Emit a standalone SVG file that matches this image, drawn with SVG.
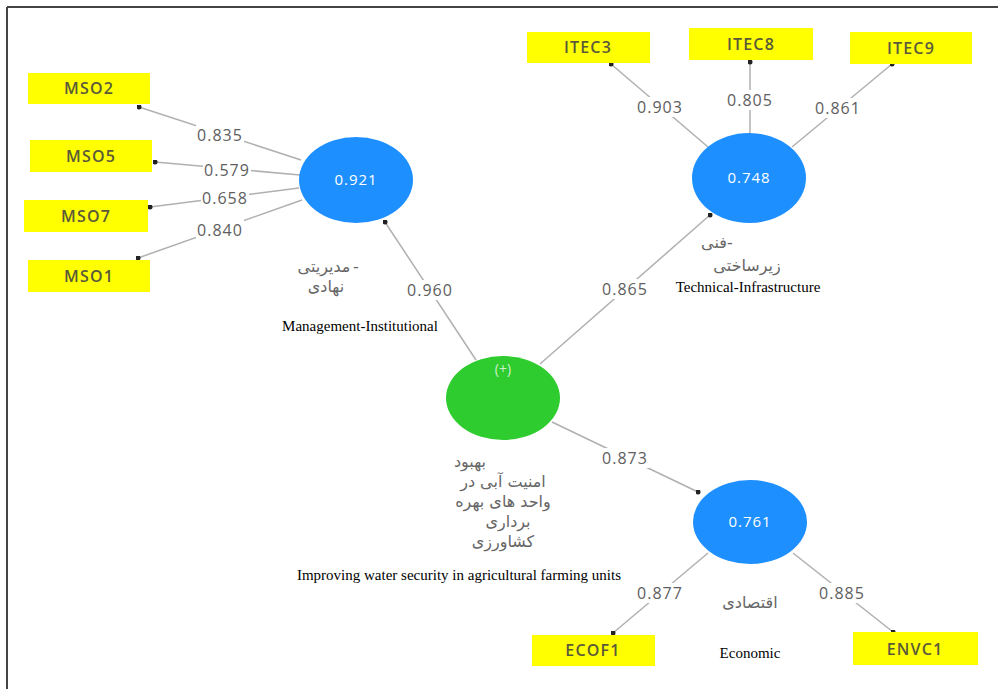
<svg xmlns="http://www.w3.org/2000/svg" width="998" height="689" viewBox="0 0 998 689">
<style>
.box{fill:#ffff00;}
.boxt{font-family:"Open Sans","Liberation Sans",sans-serif;font-size:16px;font-weight:600;letter-spacing:1.2px;fill:#5a5a3a;text-anchor:middle;}
.lv{fill:#1e8fff;}
.gv{fill:#2ecc2e;}
.lvt{font-family:"Open Sans","Liberation Sans",sans-serif;font-size:15px;letter-spacing:1px;fill:#ffffff;text-anchor:middle;}
.gvt{font-family:"Open Sans","Liberation Sans",sans-serif;font-size:14px;fill:#cfeecf;text-anchor:middle;}
.conn{stroke:#b0b0b0;stroke-width:1.5;fill:none;marker-end:url(#dot);}
.num{font-family:"Open Sans","Liberation Sans",sans-serif;font-size:16px;letter-spacing:1px;fill:#5e5e5e;text-anchor:middle;}
.numbg{fill:#ffffff;}
.fa{font-family:"DejaVu Sans",sans-serif;font-size:16px;fill:#666666;text-anchor:middle;}
.en{font-family:"Liberation Serif","Times New Roman",serif;font-size:15px;fill:#000000;text-anchor:middle;}
</style>
<defs>
<marker id="dot" viewBox="0 0 6 6" refX="3" refY="3" markerWidth="5" markerHeight="5" markerUnits="userSpaceOnUse">
<circle cx="3" cy="3" r="3" fill="#222"/>
</marker>
</defs>
<rect width="998" height="689" fill="#ffffff"/>
<g id="frame">
<line x1="7" y1="7" x2="998" y2="7" stroke="#444" stroke-width="2"/>
<line x1="7" y1="7" x2="7" y2="689" stroke="#444" stroke-width="2"/>
</g>
<g id="connectors">
<line class="conn" x1="301" y1="160" x2="139" y2="107"/>
<line class="conn" x1="300" y1="175" x2="155" y2="162"/>
<line class="conn" x1="299" y1="188" x2="150" y2="207"/>
<line class="conn" x1="302" y1="200" x2="138" y2="258"/>
<line class="conn" x1="708" y1="147" x2="611" y2="64"/>
<line class="conn" x1="750" y1="134" x2="750" y2="62"/>
<line class="conn" x1="792" y1="147" x2="892" y2="64"/>
<line class="conn" x1="708" y1="553" x2="613" y2="633"/>
<line class="conn" x1="793" y1="553" x2="893" y2="632"/>
<line class="conn" x1="476" y1="360" x2="385" y2="222"/>
<line class="conn" x1="540" y1="364" x2="710" y2="215"/>
<line class="conn" x1="552" y1="422" x2="698" y2="492"/>
<g id="loadings">
<rect class="numbg" x="196" y="125" width="48" height="20"/><text class="num" x="220" y="141">0.835</text>
<rect class="numbg" x="203" y="160" width="48" height="20"/><text class="num" x="227" y="176">0.579</text>
<rect class="numbg" x="201" y="188" width="48" height="20"/><text class="num" x="225" y="204">0.658</text>
<rect class="numbg" x="196" y="220" width="48" height="20"/><text class="num" x="220" y="236">0.840</text>
<rect class="numbg" x="636" y="97" width="48" height="20"/><text class="num" x="660" y="113">0.903</text>
<rect class="numbg" x="726" y="90" width="48" height="20"/><text class="num" x="750" y="106">0.805</text>
<rect class="numbg" x="814" y="98" width="48" height="20"/><text class="num" x="838" y="114">0.861</text>
<rect class="numbg" x="406" y="280" width="48" height="20"/><text class="num" x="430" y="296">0.960</text>
<rect class="numbg" x="601" y="279" width="48" height="20"/><text class="num" x="625" y="295">0.865</text>
<rect class="numbg" x="601" y="448" width="48" height="20"/><text class="num" x="625" y="464">0.873</text>
<rect class="numbg" x="636" y="583" width="48" height="20"/><text class="num" x="660" y="599">0.877</text>
<rect class="numbg" x="818" y="583" width="48" height="20"/><text class="num" x="842" y="599">0.885</text>
</g>
</g>
<g id="MSO2"><rect class="box" x="28" y="73" width="122" height="31"/><text class="boxt" x="89" y="94">MSO2</text></g>
<g id="MSO5"><rect class="box" x="30" y="140" width="122" height="32"/><text class="boxt" x="91" y="162">MSO5</text></g>
<g id="MSO7"><rect class="box" x="24" y="200" width="124" height="32"/><text class="boxt" x="86" y="222">MSO7</text></g>
<g id="MSO1"><rect class="box" x="28" y="260" width="122" height="32"/><text class="boxt" x="89" y="282">MSO1</text></g>
<g id="ITEC3"><rect class="box" x="527" y="32" width="123" height="31"/><text class="boxt" x="588" y="53">ITEC3</text></g>
<g id="ITEC8"><rect class="box" x="689" y="28" width="124" height="32"/><text class="boxt" x="751" y="50">ITEC8</text></g>
<g id="ITEC9"><rect class="box" x="850" y="32" width="122" height="32"/><text class="boxt" x="911" y="54">ITEC9</text></g>
<g id="ECOF1"><rect class="box" x="532" y="635" width="123" height="31"/><text class="boxt" x="593" y="656">ECOF1</text></g>
<g id="ENVC1"><rect class="box" x="853" y="632" width="125" height="33"/><text class="boxt" x="915" y="655">ENVC1</text></g>
<g id="management">
<ellipse class="lv" cx="356" cy="180" rx="57" ry="43"/>
<text class="lvt" x="356" y="185">0.921</text>
<text class="fa" x="324" y="272">مدیریتی</text><text class="fa" x="356" y="272">-</text>
<text class="fa" x="326" y="292">نهادی</text>
<text class="en" x="360" y="331">Management-Institutional</text>
</g>
<g id="technical">
<ellipse class="lv" cx="749" cy="178" rx="57" ry="45"/>
<text class="lvt" x="749" y="183">0.748</text>
<text class="fa" x="714" y="248">فنی</text><text class="fa" x="730" y="248">-</text>
<text class="fa" x="747" y="271">زیرساختی</text>
<text class="en" x="748" y="292">Technical-Infrastructure</text>
</g>
<g id="economic">
<ellipse class="lv" cx="750" cy="522" rx="57" ry="42"/>
<text class="lvt" x="750" y="527">0.761</text>
<text class="fa" x="750" y="608">اقتصادی</text>
<text class="en" x="750" y="658">Economic</text>
</g>
<g id="water_security">
<ellipse class="gv" cx="503" cy="398" rx="57" ry="42"/>
<text class="gvt" x="503" y="374">(+)</text>
<text class="fa" x="470" y="467">بهبود</text>
<text class="fa" x="503" y="487">امنیت آبی در</text>
<text class="fa" x="503" y="507">واحد های بهره</text>
<text class="fa" x="508" y="527">برداری</text>
<text class="fa" x="503" y="547">کشاورزی</text>
<text class="en" x="459" y="580">Improving water security in agricultural farming units</text>
</g>
</svg>
